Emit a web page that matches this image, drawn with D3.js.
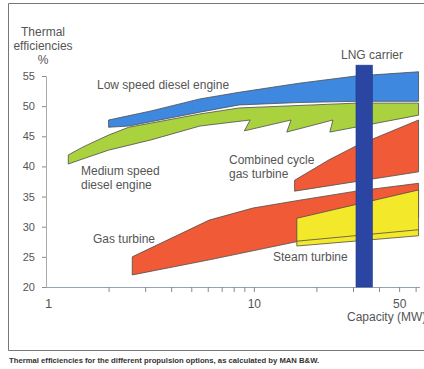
<!DOCTYPE html>
<html>
<head>
<meta charset="utf-8">
<script src="https://cdn.jsdelivr.net/npm/d3@7/dist/d3.min.js"></script>
<style>
body { margin: 0; background: #fff; }
svg text { font-family: "Liberation Sans", Arial, sans-serif; fill: #555; }
</style>
</head>
<body>
<div id="chart-area"></div>
<script>
// capacity (MW) / efficiency (%)
var lowSpeedTop = [[2, 47.7], [3.2, 49.2], [5.5, 51.2], [8.5, 52.3], [16.5, 53.8], [31, 55.0], [62, 55.7]];
var lowSpeedBottom = [[2, 46.5], [2.5, 46.7], [5.5, 49.0], [8.5, 50.2], [16.5, 50.6], [31, 50.8], [62, 50.8]];

var mediumSpeedTop = [[1.28, 41.9], [1.5, 43.2], [2, 45.2], [2.5, 46.5], [5.5, 48.7], [8.5, 49.7], [31, 50.5], [62, 50.5]];
var mediumSpeedBottom = [[1.28, 40.4], [1.55, 41.4], [2, 42.7], [3.2, 44.4], [5.5, 46.7], [9.6, 47.7], [9.0, 45.9],
    [15.1, 47.7], [14.4, 45.7], [24, 47.7], [23.2, 45.7], [62, 48.5]];

var gasTurbineTop = [[2.6, 25.0], [6.1, 31.1], [9.9, 33.1], [16.6, 34.4], [31, 35.9], [62, 37.2]];
var gasTurbineBottom = [[2.6, 22.0], [6.1, 24.5], [16, 27.5], [62, 31.6]];

var combinedTop = [[15.7, 37.7], [23, 41.1], [31, 43.4], [62, 47.7]];
var combinedBottom = [[15.7, 35.9], [62, 39.1]];

var steamTop = [[16.1, 31.4], [62, 36.1]];
var steamBottom = [[16.1, 26.8], [62, 28.5]];
var steamMiddle = [[16.1, 27.6], [62, 29.5]];

var lngRange = [31, 37.2];
var lngTop = 56.8;

var yTicks = [20, 25, 30, 35, 40, 45, 50, 55];
var xTicks = [1, 2, 3, 4, 5, 6, 7, 8, 9, 10, 20, 30, 40, 50, 60];
var xLabels = [1, 10, 50];

var width = 424;
var height = 369;

var svg = d3.select("#chart-area")
    .append("svg")
    .attr("width", width)
    .attr("height", height);

// frame
svg.append("path")
    .attr("d", "M424,3.5 H8.5 V350.5 H424")
    .attr("fill", "none")
    .attr("stroke", "#777")
    .attr("stroke-width", 1);

var x = d3.scaleLog().domain([1, 63]).range([46, 420]);
var y = d3.scaleLinear().domain([20, 55]).range([287, 76]);

// axes
var xAxis = d3.axisBottom(x)
    .tickValues(xTicks)
    .tickSize(5)
    .tickPadding(7)
    .tickFormat(d => xLabels.includes(d) ? d : "");
var gx = svg.append("g")
    .attr("transform", `translate(0, ${y(20)})`)
    .call(xAxis);
gx.select(".domain").attr("stroke", "#93a3bb").attr("d", `M${x(1) - 1},0.5H420`);
gx.selectAll(".tick line").attr("stroke", "#8a8a8a");
gx.selectAll(".tick").filter(d => d === 1).select("line").remove();
gx.selectAll(".tick text").attr("font-size", "12px").attr("fill", "#555");
gx.selectAll(".tick").filter(d => d === 1).select("text")
    .attr("font-size", "13px").attr("dx", 2);

var yAxis = d3.axisLeft(y)
    .tickValues(yTicks)
    .tickSize(4)
    .tickPadding(7);
var gy = svg.append("g")
    .attr("transform", `translate(${x(1)}, 0)`)
    .call(yAxis);
gy.select(".domain").attr("stroke", "#aaa");
gy.selectAll(".tick line").attr("stroke", "#8a8a8a");
gy.selectAll(".tick text").attr("font-size", "11px").attr("fill", "#555");

// bands
var line = d3.line().x(d => x(d[0])).y(d => y(d[1]));

function band(top, bottom, fill) {
    var pts = top.concat(bottom.slice().reverse());
    svg.append("path")
        .attr("d", line(pts) + "Z")
        .attr("fill", fill)
        .attr("stroke", "#4d4d4d")
        .attr("stroke-width", 0.8)
        .attr("stroke-linejoin", "round");
}

band(mediumSpeedTop, mediumSpeedBottom, "#a9d23e");
band(lowSpeedTop, lowSpeedBottom, "#3e88df");
band(gasTurbineTop, gasTurbineBottom, "#f05a36");
band(combinedTop, combinedBottom, "#f05a36");
band(steamTop, steamBottom, "#f4e82a");

svg.append("path")
    .attr("d", line(steamMiddle))
    .attr("fill", "none")
    .attr("stroke", "#4d4d4d")
    .attr("stroke-width", 0.8);

// LNG carrier bar
svg.append("rect")
    .attr("x", x(lngRange[0]))
    .attr("y", y(lngTop))
    .attr("width", x(lngRange[1]) - x(lngRange[0]))
    .attr("height", y(20) - y(lngTop))
    .attr("fill", "#2b45a3")
    .attr("stroke", "#233a8a")
    .attr("stroke-width", 0.6);

// texts
var labels = [
    { t: "Thermal", x: 43, y: 36, a: "middle" },
    { t: "efficiencies", x: 43, y: 50, a: "middle" },
    { t: "%", x: 43, y: 64, a: "middle" },
    { t: "Low speed diesel engine", x: 97, y: 89, a: "start" },
    { t: "Medium speed", x: 81, y: 175, a: "start" },
    { t: "diesel engine", x: 81, y: 189, a: "start" },
    { t: "Combined cycle", x: 229, y: 164, a: "start" },
    { t: "gas turbine", x: 229, y: 178, a: "start" },
    { t: "Gas turbine", x: 93, y: 243, a: "start" },
    { t: "Steam turbine", x: 273, y: 261, a: "start" },
    { t: "LNG carrier", x: 372, y: 59, a: "middle" },
    { t: "Capacity (MW)", x: 347, y: 321, a: "start" }
];

svg.selectAll("text.lbl")
    .data(labels)
    .enter()
    .append("text")
    .attr("class", "lbl")
    .attr("x", d => d.x)
    .attr("y", d => d.y)
    .attr("text-anchor", d => d.a)
    .attr("font-size", "12px")
    .text(d => d.t);

svg.append("text")
    .attr("x", 9)
    .attr("y", 363)
    .attr("font-size", "7.7px")
    .attr("font-weight", "bold")
    .style("fill", "#333")
    .text("Thermal efficiencies for the different propulsion options, as calculated by MAN B&W.");
</script>
</body>
</html>
